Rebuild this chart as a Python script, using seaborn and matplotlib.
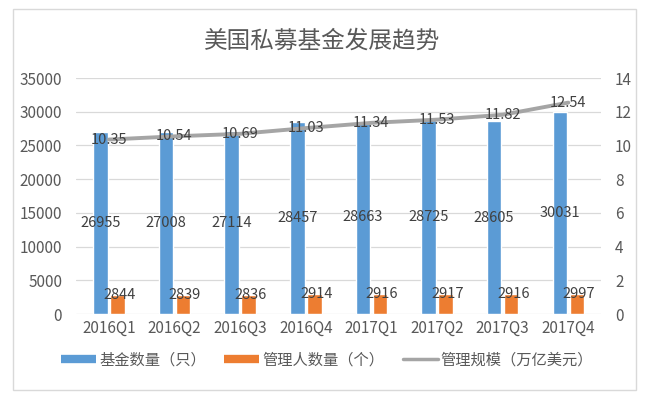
import numpy as np
import pandas as pd
import matplotlib.pyplot as plt
import seaborn as sns
from matplotlib.lines import Line2D
from matplotlib.patches import Rectangle

# data
quarters = ["2016Q1", "2016Q2", "2016Q3", "2016Q4", "2017Q1", "2017Q2", "2017Q3", "2017Q4"]
fund_count = [26955, 27008, 27114, 28457, 28663, 28725, 28605, 30031]
manager_count = [2844, 2839, 2836, 2914, 2916, 2917, 2916, 2997]
aum_trillion = [10.35, 10.54, 10.69, 11.03, 11.34, 11.53, 11.82, 12.54]

s_fund = "基金数量（只）"
s_mgr = "管理人数量（个）"
s_aum = "管理规模（万亿美元）"

BLUE, ORANGE, GRAY = "#5B9BD5", "#ED7D31", "#A5A5A5"
TXT = "#595959"

sns.set_style("white")
plt.rcParams['font.family'] = ['Noto Sans CJK SC', 'DejaVu Sans']

bars = pd.DataFrame({
    "quarter": quarters * 2,
    "value": fund_count + manager_count,
    "series": [s_fund] * len(quarters) + [s_mgr] * len(quarters),
})

fig = plt.figure(figsize=(6.45, 3.94), dpi=100)
ax = fig.add_axes([0.118, 0.203, 0.814, 0.599])

sns.barplot(data=bars, x="quarter", y="value", hue="series",
            palette=[BLUE, ORANGE], saturation=1, width=0.52, gap=0.15,
            legend=False, ax=ax)

ax2 = ax.twinx()
sns.lineplot(x=np.arange(len(quarters)), y=aum_trillion, color=GRAY,
             linewidth=2.8, ax=ax2)

ax.set_ylim(0, 35000)
ax.set_yticks(range(0, 35001, 5000))
ax2.set_ylim(0, 14)
ax2.set_yticks(range(0, 15, 2))
ax.set_xlim(-0.5, len(quarters) - 0.5)
ax.set_xlabel("")
ax.set_ylabel("")

ax.grid(axis="y", color="#D9D9D9", linewidth=0.9)
ax.set_axisbelow(True)
for a in (ax, ax2):
    for sp in a.spines.values():
        sp.set_visible(False)
    a.tick_params(length=0, labelsize=11, colors=TXT)
ax.tick_params(axis="x", pad=4)
ax.tick_params(axis="y", pad=10)
ax2.tick_params(axis="y", pad=10)

# data labels
for i in range(len(quarters)):
    ax.text(i - 0.13, fund_count[i] / 2, str(fund_count[i]), ha="center",
            va="center", fontsize=10.5, color="#404040")
    ax.text(i + 0.16, manager_count[i], str(manager_count[i]), ha="center",
            va="center", fontsize=10.5, color="#404040")
    ax2.text(i, aum_trillion[i], f"{aum_trillion[i]:.2f}", ha="center",
             va="center", fontsize=10.5, color="#404040")

fig.suptitle("美国私募基金发展趋势", y=0.925, fontsize=17, color=TXT)

handles = [Line2D([], [], color=BLUE, linewidth=6, solid_capstyle="butt"),
           Line2D([], [], color=ORANGE, linewidth=6, solid_capstyle="butt"),
           Line2D([], [], color=GRAY, linewidth=2.5)]
fig.legend(handles, [s_fund, s_mgr, s_aum], loc="center", ncol=3,
           bbox_to_anchor=(0.507, 0.086), frameon=False, fontsize=11,
           handlelength=2.3, handletextpad=0.2, columnspacing=1.2,
           labelcolor=TXT)

fig.patches.append(Rectangle((13 / 645, 4 / 394), 623 / 645, 381 / 394,
                             transform=fig.transFigure, fill=False,
                             edgecolor="#D9D9D9", linewidth=1))

fig.savefig("out.png", dpi=100)
